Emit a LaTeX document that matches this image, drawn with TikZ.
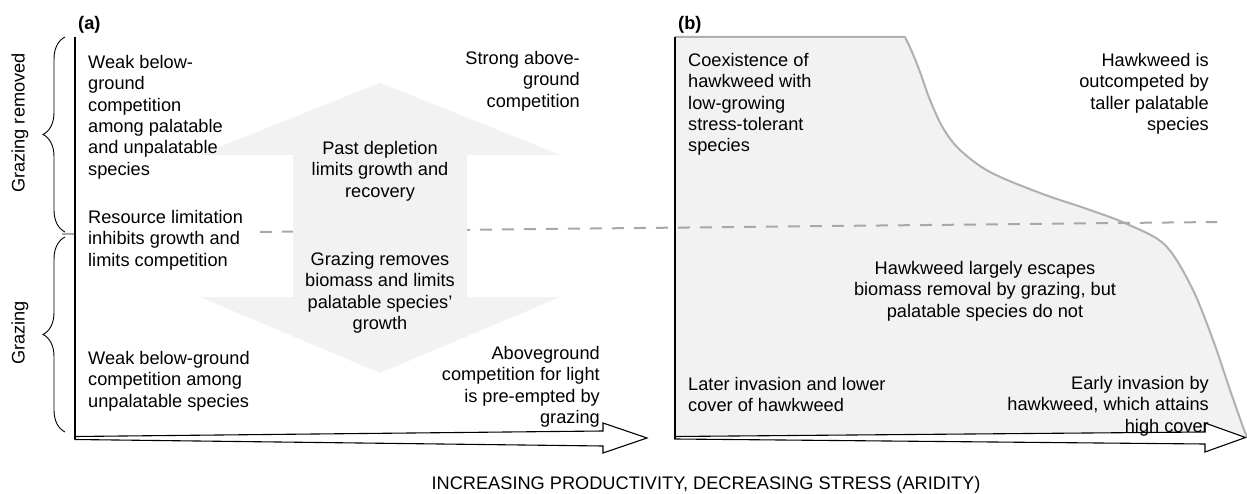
\documentclass[tikz,border=0pt]{standalone}
\usepackage{fontspec}
\setmainfont{Liberation Sans}
\usetikzlibrary{decorations.pathreplacing}
\definecolor{lightfill}{HTML}{F2F2F2}
\definecolor{curvegray}{HTML}{B0B0B0}
\definecolor{dashgray}{HTML}{A8A8A8}
\begin{document}
\begin{tikzpicture}[x=1pt,y=-1pt,
  txt/.style={font=\fontsize{18.2}{21.3}\selectfont, inner sep=0pt, text=black},
  lft/.style={txt, align=left, anchor=north west},
  rgt/.style={txt, align=right, anchor=north east},
  ctr/.style={txt, align=center, anchor=north},
  axisline/.style={black, line width=1.4pt},
  hollow/.style={draw=black, fill=white, line width=1.1pt, line join=miter},
  bracestyle/.style={decorate, decoration={brace, amplitude=22pt}, line width=0.9pt},
  sepline/.style={dashgray, line width=2pt, dash pattern=on 12pt off 10pt},
  curveline/.style={curvegray, line width=2pt, line join=round}]
\useasboundingbox (0,0) rectangle (1247,494);
\fill[white] (0,0) rectangle (1247,494);

% panel (b) shaded region
\fill[lightfill] (675,37) -- plot[smooth, tension=0.55] coordinates {(905,37) (912,52) (920,72) (930,100) (943,128) (960,150) (990,172) (1040,193) (1090,210) (1127,224) (1165,245) (1192,288) (1213,340) (1230,390) (1243,427) (1247,437)} -- (675,437) -- cycle;
\draw[curveline] (675,37) -- plot[smooth, tension=0.55] coordinates {(905,37) (912,52) (920,72) (930,100) (943,128) (960,150) (990,172) (1040,193) (1090,210) (1127,224) (1165,245) (1192,288) (1213,340) (1230,390) (1243,427) (1247,437)};

% dashed divider
\coordinate (dl) at (62,234);
\coordinate (dr) at (1217,222);
\draw[sepline] (dl) -- (dr);

% big double arrow
\fill[lightfill] (380,83) -- (560,155) -- (467,155) -- (467,297) -- (560,297) -- (380,373) -- (200,297) -- (293,297) -- (293,155) -- (200,155) -- cycle;

% white text box behind "Resource limitation"
\fill[white] (78,206) rectangle (258,266);

% braces
\coordinate (b1s) at (65,232);
\coordinate (b1e) at (65,37);
\coordinate (b2s) at (65,432);
\coordinate (b2e) at (65,237);
\draw[bracestyle] (b1s) -- (b1e);
\draw[bracestyle] (b2s) -- (b2e);

% axes panel (a)
\draw[hollow] (75,436.5) -- (603,431) -- (603,423) -- (647,438) -- (603,453) -- (603,446) -- (75,439.5) -- cycle;
\coordinate (ya1) at (75,37);
\coordinate (ya2) at (75,439);
\draw[axisline] (ya1) -- (ya2);

% axes panel (b)
\draw[hollow] (675,436.5) -- (1205,432) -- (1205,423) -- (1245.5,437.5) -- (1205,452) -- (1205,444) -- (675,439) -- cycle;
\coordinate (yb1) at (675,37);
\coordinate (yb2) at (675,439);
\draw[axisline] (yb1) -- (yb2);

% labels panel (a)
\node[txt, font=\fontsize{18.2}{21.3}\selectfont\bfseries, anchor=north west] (la) at (78,14.5) {\strut(a)};
\node[lft] (weak1) at (88,53.5) {\strut Weak below-\\ground\\competition\\among palatable\\and unpalatable\\species};
\node[lft] (resource) at (88,208.5) {\strut Resource limitation\\inhibits growth and\\limits competition};
\node[lft] (weak2) at (88,349.5) {\strut Weak below-ground\\competition among\\unpalatable species};
\node[rgt] (strong) at (580,49.5) {\strut Strong above-\\ground\\competition};
\node[rgt] (above) at (600,344.5) {\strut Aboveground\\competition for light\\is pre-empted by\\grazing};
\node[ctr] (past) at (380,139.5) {\strut Past depletion\\limits growth and\\recovery};
\node[ctr] (grem) at (380,250.5) {\strut Grazing removes\\biomass and limits\\palatable species'\\growth};

% labels panel (b)
\node[txt, font=\fontsize{18.2}{21.3}\selectfont\bfseries, anchor=north west] (lb) at (678,14.5) {\strut(b)};
\node[lft] (coex) at (688,51.5) {\strut Coexistence of\\hawkweed with\\low-growing\\stress-tolerant\\species};
\node[rgt] (outc) at (1209,51.5) {\strut Hawkweed is\\outcompeted by\\taller palatable\\species};
\node[ctr] (escape) at (985,259.5) {\strut Hawkweed largely escapes\\biomass removal by grazing, but\\palatable species do not};
\node[lft] (later) at (688,375.5) {\strut Later invasion and lower\\cover of hawkweed};
\node[rgt] (early) at (1209,374.5) {\strut Early invasion by\\hawkweed, which attains\\high cover};

% bottom axis title
\node[txt, anchor=north] (xtitle) at (706,474.5) {\strut INCREASING PRODUCTIVITY, DECREASING STRESS (ARIDITY)};

% side labels
\node[txt, rotate=90] (sideA) at (20,123) {Grazing removed};
\node[txt, rotate=90] (sideB) at (20,333) {Grazing};
\end{tikzpicture}
\end{document}
